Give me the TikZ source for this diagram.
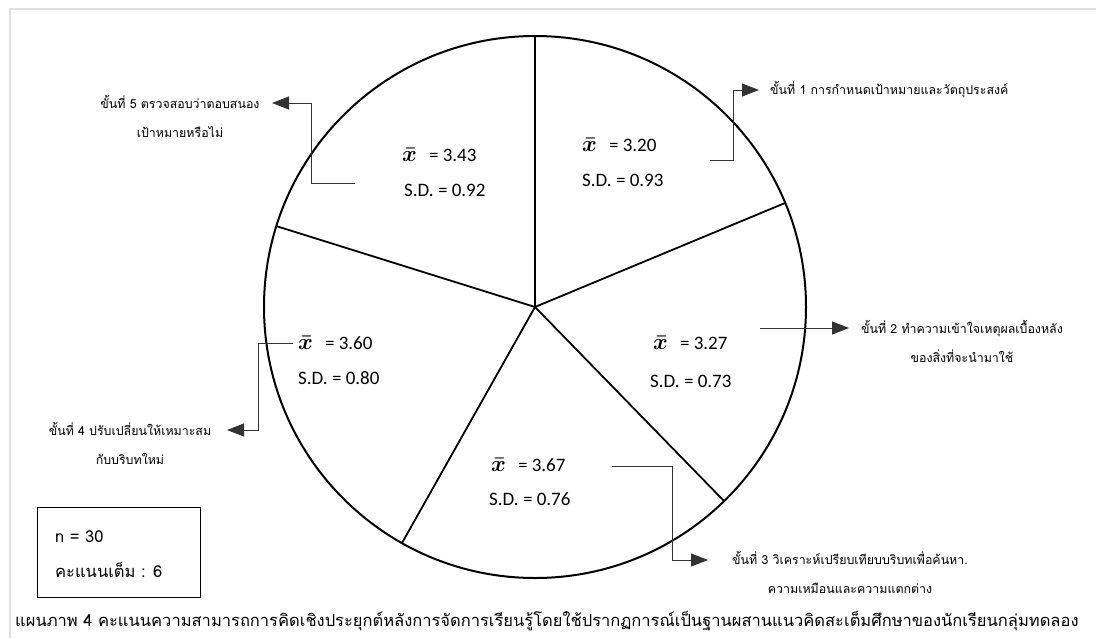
\documentclass[tikz,border=0pt]{standalone}
\usepackage{amsmath}
\usepackage{graphicx}
\usepackage{fontspec}
\setmainfont{Carlito}
\newfontfamily\thai[Script=Thai]{Loma}
\usetikzlibrary{arrows.meta}
\tikzset{
  frameline/.style={draw=black!12, line width=2pt},
  wheel/.style={line width=2pt},
  spoke/.style={line width=1.8pt},
  conn/.style={line width=0.9pt, black!80},
  connarrow/.style={conn, -{Triangle[length=17pt,width=13pt]}},
  val/.style={anchor=base west, inner sep=0pt, font=\fontsize{19}{22}\selectfont},
  steptxt/.style={inner sep=0pt, align=center, font=\thai\fontsize{12.4}{29}\selectfont},
  boxtxt/.style={anchor=base west, inner sep=0pt, font=\thai\fontsize{16.5}{19}\selectfont},
}
\newcommand{\xb}{\scalebox{1.3}{$\boldsymbol{\bar{x}}$}\hspace{12pt}}
\begin{document}
\begin{tikzpicture}[x=1pt,y=-1pt]
\useasboundingbox (0,0) rectangle (1096,638);
% frame
\draw[frameline] (10,638) -- (10,9) -- (1096,9);
% wheel
\coordinate (O) at (535,307);
\draw[wheel] (O) circle (271);
\coordinate (p1) at (535,36);
\coordinate (p2) at (785,203);
\coordinate (p3) at (724,501);
\coordinate (p4) at (402,543);
\coordinate (p5) at (276,226);
\foreach \p in {p1,p2,p3,p4,p5} \draw[spoke] (O) -- (\p);
% values
\node[val] (m5) at (402,161) {\xb= 3.43};
\node[val] (s5) at (404,196) {S.D. = 0.92};
\node[val] (m1) at (582,151) {\xb= 3.20};
\node[val] (s1) at (582,186) {S.D. = 0.93};
\node[val] (m2) at (653,349) {\xb= 3.27};
\node[val] (s2) at (650,387) {S.D. = 0.73};
\node[val] (m4) at (298,349) {\xb= 3.60};
\node[val] (s4) at (298,384) {S.D. = 0.80};
\node[val] (m3) at (491,471) {\xb= 3.67};
\node[val] (s3) at (489,505) {S.D. = 0.76};
% step 5
\coordinate (a5s) at (355,183);
\coordinate (a5b) at (311,183);
\coordinate (a5c) at (311,103);
\coordinate (a5e) at (272,103);
\draw[connarrow] (a5s) -- (a5b) -- (a5c) -- (a5e);
\node[steptxt, anchor=north] (t5) at (180,95) {ขั้นที่ 5 ตรวจสอบว่าตอบสนอง\\เป้าหมายหรือไม่};
% step 1
\coordinate (a1s) at (710,160);
\coordinate (a1b) at (733,160);
\coordinate (a1c) at (733,90);
\coordinate (a1e) at (759,90);
\draw[connarrow] (a1s) -- (a1b) -- (a1c) -- (a1e);
\node[steptxt, anchor=west] (t1) at (770,90) {ขั้นที่ 1 การกำหนดเป้าหมายและวัตถุประสงค์};
% step 2
\coordinate (a2s) at (760,328);
\coordinate (a2e) at (849,328);
\draw[connarrow] (a2s) -- (a2e);
\node[steptxt, anchor=north] (t2) at (962,320) {ขั้นที่ 2 ทำความเข้าใจเหตุผลเบื้องหลัง\\ของสิ่งที่จะนำมาใช้};
% step 4
\coordinate (a4s) at (293,343);
\coordinate (a4b) at (258,343);
\coordinate (a4c) at (258,430);
\coordinate (a4e) at (227,430);
\draw[connarrow] (a4s) -- (a4b) -- (a4c) -- (a4e);
\node[steptxt, anchor=north] (t4) at (130,422) {ขั้นที่ 4 ปรับเปลี่ยนให้เหมาะสม\\กับบริบทใหม่};
% step 3
\coordinate (a3s) at (612,466);
\coordinate (a3b) at (672,466);
\coordinate (a3c) at (672,560);
\coordinate (a3e) at (708,560);
\draw[connarrow] (a3s) -- (a3b) -- (a3c) -- (a3e);
\node[steptxt, anchor=north] (t3) at (850,551) {ขั้นที่ 3 วิเคราะห์เปรียบเทียบบริบทเพื่อค้นหา.\\ความเหมือนและความแตกต่าง};
% info box
\draw[line width=0.8pt] (37,507) rectangle (200,597);
\node[boxtxt] (n) at (55,542) {n = 30};
\node[boxtxt] (full) at (55,577) {คะแนนเต็ม : 6};
% caption
\node[anchor=base west, inner sep=0pt, font=\thai\fontsize{16.5}{19}\selectfont] (cap) at (15,626) {แผนภาพ 4 คะแนนความสามารถการคิดเชิงประยุกต์หลังการจัดการเรียนรู้โดยใช้ปรากฏการณ์เป็นฐานผสานแนวคิดสะเต็มศึกษาของนักเรียนกลุ่มทดลอง};
\end{tikzpicture}
\end{document}
